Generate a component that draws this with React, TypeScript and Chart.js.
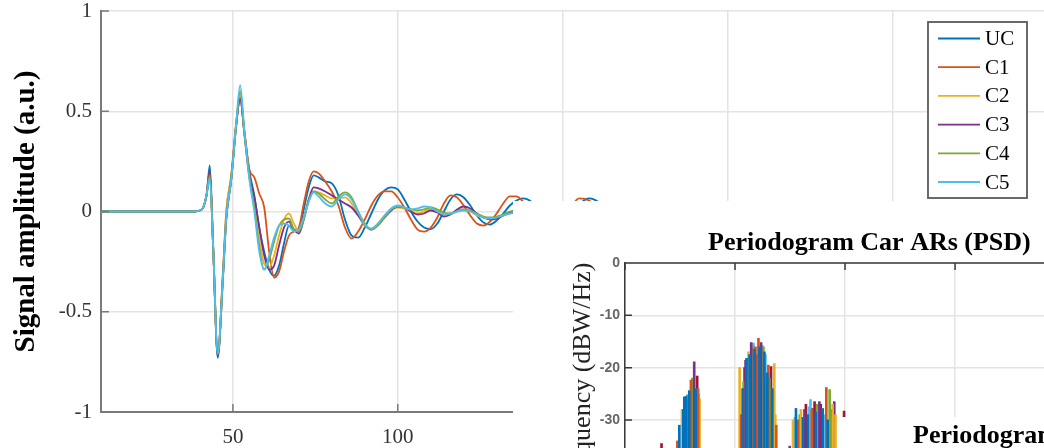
import React, { useEffect, useRef } from 'react';
import { Chart, registerables } from 'chart.js';

Chart.register(...registerables);

if (typeof document !== 'undefined') document.body.style.margin = '0';

const SERIF = 'Liberation Serif';
const SANS = 'Liberation Sans';

// ---------------- main chart data ----------------
const SERIES_NAMES = ['UC', 'C1', 'C2', 'C3', 'C4', 'C5'];
const SERIES_COLORS = ['#0072BD', '#D95319', '#EDB120', '#7E2F8E', '#77AC30', '#4DBEEE'];

const SAMPLE_X = [10, 38, 40, 41, 42, 43, 44, 45.4, 47, 48, 49.5, 51, 52.2, 53.5, 55, 56.5, 58, 59.5, 61, 62.5, 64, 65.5, 67, 68.5, 70, 71.5, 73, 74.5, 76, 78, 80, 82, 84, 86, 88, 90, 92, 94, 96, 98, 100, 102, 104, 106, 108, 110, 112, 114, 116, 118, 120, 122, 124, 126, 128, 130, 132, 134, 136, 138, 140, 143, 146, 149, 152, 155, 158, 161, 164, 168, 175];

const UC = [0, 0, 0.005, 0.02, 0.08, 0.23, -0.17, -0.73, -0.33, -0.04,
  0.16, 0.43, 0.57, 0.39, 0.2, 0.08, -0.08, -0.2, -0.29, -0.32,
  -0.27, -0.16, -0.07, -0.09, -0.1, 0.01, 0.12, 0.18, 0.17, 0.15,
  0.14, 0.08, -0.04, -0.12, -0.13, -0.08, -0.01, 0.06, 0.105, 0.12,
  0.11, 0.06, 0.0, -0.05, -0.08, -0.088, -0.06, 0.0, 0.06, 0.085,
  0.07, 0.03, -0.02, -0.055, -0.065, -0.045, -0.01, 0.03, 0.055, 0.065,
  0.055, 0.01, -0.04, -0.05, -0.02, 0.035, 0.065, 0.045, -0.01, -0.04, 0.0];
const C1 = [0, 0, 0.005, 0.02, 0.08, 0.2, -0.17, -0.71, -0.3, 0.0,
  0.18, 0.44, 0.56, 0.4, 0.21, 0.17, 0.09, 0.02, -0.2, -0.33,
  -0.3, -0.2, -0.12, -0.1, -0.08, 0.04, 0.15, 0.2, 0.19, 0.15,
  0.1, 0.03, -0.08, -0.135, -0.1, -0.04, 0.03, 0.08, 0.1, 0.1,
  0.07, 0.02, -0.04, -0.09, -0.1, -0.08, -0.03, 0.04, 0.08, 0.07,
  0.03, -0.02, -0.06, -0.07, -0.05, -0.01, 0.04, 0.075, 0.075, 0.05,
  0.02, -0.03, -0.06, -0.04, 0.01, 0.065, 0.055, 0.01, -0.03, -0.04, 0.0];
const C2 = [0, 0, 0.005, 0.02, 0.08, 0.19, -0.17, -0.71, -0.3, 0.0,
  0.18, 0.44, 0.59, 0.4, 0.18, 0.04, -0.14, -0.26, -0.28, -0.22,
  -0.12, -0.04, -0.01, -0.06, -0.1, -0.03, 0.06, 0.1, 0.095, 0.08,
  0.065, 0.065, 0.07, 0.04, -0.02, -0.07, -0.085, -0.06, -0.02, 0.01,
  0.02, 0.015, 0.0, -0.01, 0.0, 0.01, 0.0, -0.015, -0.01, 0.005,
  0.01, 0.0, -0.02, -0.03, -0.035, -0.03, -0.02, -0.01, 0.0, 0.0,
  0, 0, 0, 0, 0, 0, 0, 0, 0, 0, 0];
const C3 = [0, 0, 0.005, 0.02, 0.08, 0.2, -0.17, -0.72, -0.32, -0.03,
  0.16, 0.43, 0.56, 0.39, 0.18, 0.07, -0.08, -0.22, -0.29, -0.27,
  -0.17, -0.08, -0.05, -0.09, -0.11, -0.04, 0.06, 0.12, 0.115, 0.1,
  0.08, 0.06, 0.04, 0.02, -0.02, -0.065, -0.09, -0.065, -0.03, 0.005,
  0.025, 0.02, 0.0, -0.015, -0.01, 0.005, -0.005, -0.025, -0.015, 0.01,
  0.025, 0.015, -0.01, -0.03, -0.04, -0.035, -0.02, -0.005, 0.0, 0.0,
  0, 0, 0, 0, 0, 0, 0, 0, 0, 0, 0];
const C4 = [0, 0, 0.005, 0.02, 0.08, 0.18, -0.17, -0.71, -0.32, -0.03,
  0.16, 0.43, 0.6, 0.38, 0.17, 0.02, -0.18, -0.29, -0.24, -0.15,
  -0.07, -0.04, -0.035, -0.09, -0.1, -0.04, 0.05, 0.1, 0.09, 0.06,
  0.04, 0.075, 0.095, 0.07, 0.0, -0.06, -0.09, -0.07, -0.03, 0.01,
  0.025, 0.02, 0.01, 0.005, 0.01, 0.02, 0.01, -0.005, -0.01, 0.0,
  0.01, 0.005, -0.01, -0.025, -0.03, -0.025, -0.015, 0.0, 0.005, 0.0,
  0, 0, 0, 0, 0, 0, 0, 0, 0, 0, 0];
const C5 = [0, 0, 0.005, 0.02, 0.08, 0.165, -0.17, -0.71, -0.32, -0.03,
  0.16, 0.44, 0.63, 0.4, 0.16, 0.0, -0.2, -0.29, -0.22, -0.13,
  -0.07, -0.06, -0.07, -0.1, -0.09, -0.03, 0.05, 0.095, 0.075, 0.04,
  0.025, 0.06, 0.085, 0.06, -0.005, -0.065, -0.085, -0.06, -0.02, 0.015,
  0.03, 0.02, 0.01, 0.015, 0.025, 0.02, 0.0, -0.015, -0.01, 0.0,
  0.005, 0.0, -0.015, -0.03, -0.035, -0.03, -0.02, -0.01, -0.005, 0.0,
  0, 0, 0, 0, 0, 0, 0, 0, 0, 0, 0];
const SERIES_VALUES = [UC, C1, C2, C3, C4, C5];

const MAIN_X_MIN = 10;
const MAIN_X_MAX = 296;
const MAIN_X_STEP = 50;
const MAIN_Y_MIN = -1;
const MAIN_Y_MAX = 1;
const MAIN_Y_STEP = 0.5;
const MAIN_Y_LABEL = 'Signal amplitude (a.u.)';

// ---------------- periodogram inset data ----------------
const PSD_TITLE = 'Periodogram Car ARs (PSD)';
const PSD_Y_LABEL = 'Power/frequency (dBW/Hz)';
const PSD_X_MIN = 0;
const PSD_X_MAX = 5;
const PSD_Y_MIN = -56;
const PSD_Y_MAX = 0;
const PSD_Y_STEP = 10;
const PSD_FLOOR = -70;
const PSD_COLORS = ['#0072BD', '#D95319', '#EDB120', '#7E2F8E', '#77AC30', '#4DBEEE', '#A2142F'];

const PSD_F_1 = [0.494, 0.530, 0.539, 0.553, 0.584, 0.642, 1.069, 1.105, 1.132, 1.177, 1.222, 1.267, 1.294, 1.339, 1.554, 1.617, 1.662, 1.734, 1.797, 1.842];
const PSD_DB_1 = [-31, -28, -25.6, -25.5, -24.4, -24, -24, -18.2, -17.5, -16.5, -16, -17, -21, -24, -27.8, -29.5, -29, -28.5, -27.8, -30];
const PSD_F_2 = [0.476, 0.568, 0.599, 0.665, 1.056, 1.186, 1.213, 1.303, 1.375, 1.572, 1.698, 1.830];
const PSD_DB_2 = [-34, -26, -22.4, -24, -29, -16, -14.4, -19.5, -31, -30, -28, -23.8];
const PSD_F_3 = [0.518, 0.670, 0.678, 1.042, 1.123, 1.357, 1.366, 1.527, 1.599, 1.887, 1.913];
const PSD_DB_3 = [-28, -25, -26, -20, -17, -19.2, -29, -30, -28, -27, -29];
const PSD_F_4 = [0.629, 1.096, 1.147, 1.237, 1.497, 1.631, 1.707, 1.767, 1.902];
const PSD_DB_4 = [-18.9, -18.6, -15.2, -15.2, -35, -28, -27.8, -26.5, -26.5];
const PSD_F_5 = [0.566, 0.611, 1.078, 1.159, 1.258, 1.312, 1.588, 1.748, 1.860];
const PSD_DB_5 = [-25.2, -22, -22.7, -16, -16, -22, -29, -27, -24.2];
const PSD_F_6 = [0.620, 1.114, 1.168, 1.249, 1.276, 1.545, 1.671, 1.686, 1.811];
const PSD_DB_6 = [-23, -18.5, -15.3, -15.8, -17.5, -29.5, -27.5, -26.1, -29];
const PSD_F_7 = [0.332, 0.656, 1.087, 1.195, 1.285, 1.327, 1.644, 1.723, 1.779, 1.873, 1.991];
const PSD_DB_7 = [-34.5, -21.6, -20, -17.5, -23, -19.8, -27, -26.5, -27, -28, -28.3];
const PSD_FREQS = [PSD_F_1, PSD_F_2, PSD_F_3, PSD_F_4, PSD_F_5, PSD_F_6, PSD_F_7];
const PSD_LEVELS = [PSD_DB_1, PSD_DB_2, PSD_DB_3, PSD_DB_4, PSD_DB_5, PSD_DB_6, PSD_DB_7];

const THIRD_TITLE = 'Periodogram Car ARs (PSD)';

// ---------------- plugins ----------------
const innerTicks = {
  id: 'innerTicks',
  afterDatasetsDraw(chart: any, _args: any, o: any) {
    if (!o || !o.show) return;
    const { ctx, chartArea, scales } = chart;
    const xs = scales.x;
    const ys = scales.y;
    ctx.save();
    ctx.strokeStyle = o.color;
    ctx.lineWidth = o.width;
    ctx.beginPath();
    xs.ticks.forEach((t: any) => {
      const px = xs.getPixelForValue(t.value);
      if (o.bottom) { ctx.moveTo(px, chartArea.bottom); ctx.lineTo(px, chartArea.bottom - o.len); }
      if (o.top) { ctx.moveTo(px, chartArea.top); ctx.lineTo(px, chartArea.top + o.len); }
    });
    ys.ticks.forEach((t: any) => {
      const py = ys.getPixelForValue(t.value);
      if (o.left) { ctx.moveTo(chartArea.left, py); ctx.lineTo(chartArea.left + o.len, py); }
    });
    if (o.topBorder) { ctx.moveTo(chartArea.left, chartArea.top); ctx.lineTo(chartArea.right, chartArea.top); }
    ctx.stroke();
    ctx.restore();
  },
};

const boxLegend = {
  id: 'boxLegend',
  afterDatasetsDraw(chart: any, _args: any, o: any) {
    if (!o || !o.show) return;
    const ctx = chart.ctx;
    ctx.save();
    ctx.fillStyle = '#ffffff';
    ctx.fillRect(o.x, o.y, o.w, o.h);
    ctx.strokeStyle = o.borderColor;
    ctx.lineWidth = o.borderWidth;
    ctx.strokeRect(o.x, o.y, o.w, o.h);
    ctx.font = `${o.fontSize}px "${SERIF}"`;
    ctx.textBaseline = 'middle';
    ctx.textAlign = 'left';
    chart.data.datasets.forEach((ds: any, i: number) => {
      const cy = o.firstRow + i * o.rowGap;
      ctx.strokeStyle = ds.borderColor;
      ctx.lineWidth = o.lineWidth;
      ctx.beginPath();
      ctx.moveTo(o.lineStart, cy);
      ctx.lineTo(o.lineEnd, cy);
      ctx.stroke();
      ctx.fillStyle = '#000';
      ctx.fillText(ds.label, o.textX, cy + 1);
    });
    ctx.restore();
  },
};

const cornerTitle = {
  id: 'cornerTitle',
  afterDraw(chart: any, _args: any, o: any) {
    if (!o || !o.show) return;
    const { ctx, chartArea } = chart;
    ctx.save();
    ctx.font = `bold ${o.size}px "${SERIF}"`;
    ctx.fillStyle = o.color;
    ctx.textAlign = 'left';
    ctx.textBaseline = 'alphabetic';
    ctx.fillText(o.text, chartArea.left + o.dx, chartArea.top - o.dy);
    ctx.restore();
  },
};

const plainNumber = (v: any) => String(Number(v));

// ---------------- chart builders ----------------
function buildMain(canvas: HTMLCanvasElement) {
  const datasets = SERIES_NAMES.map((name, i) => ({
    label: name,
    data: SAMPLE_X.map((x, j) => ({ x, y: SERIES_VALUES[i][j] })),
    borderColor: SERIES_COLORS[i],
    backgroundColor: SERIES_COLORS[i],
    borderWidth: 1.8,
    pointRadius: 0,
    cubicInterpolationMode: 'monotone' as const,
    order: SERIES_NAMES.length - i,
  }));
  return new Chart(canvas, {
    type: 'line',
    data: { datasets },
    plugins: [innerTicks, boxLegend],
    options: {
      responsive: false,
      animation: false,
      layout: { padding: { top: 11, right: 0, bottom: 0, left: 0 } },
      plugins: {
        legend: { display: false },
        tooltip: { enabled: false },
        innerTicks: { show: true, bottom: true, left: true, top: false, topBorder: false, color: '#7a7a7a', width: 1.5, len: 8 },
        boxLegend: {
          show: true, x: 928, y: 22, w: 99, h: 176, borderColor: '#5a5a5a', borderWidth: 1.8,
          firstRow: 38.5, rowGap: 28.7, lineStart: 938, lineEnd: 980, textX: 985, fontSize: 21, lineWidth: 1.8,
        },
      } as any,
      scales: {
        x: {
          type: 'linear',
          min: MAIN_X_MIN,
          max: MAIN_X_MAX,
          afterBuildTicks: (s: any) => { s.ticks = s.ticks.filter((t: any) => t.value % MAIN_X_STEP === 0); },
          afterFit: (s: any) => { s.height = 36; s.paddingLeft = 0; s.paddingRight = 0; },
          ticks: { stepSize: MAIN_X_STEP, color: '#333', font: { family: SERIF, size: 21, lineHeight: 1 }, padding: 15, maxRotation: 0, autoSkip: false, callback: plainNumber },
          grid: { color: '#e4e4e4', lineWidth: 1.5, drawTicks: false },
          border: { color: '#7a7a7a', width: 2 },
        },
        y: {
          type: 'linear',
          min: MAIN_Y_MIN,
          max: MAIN_Y_MAX,
          afterFit: (s: any) => { s.width = 101; s.paddingTop = 0; s.paddingBottom = 0; },
          ticks: { stepSize: MAIN_Y_STEP, color: '#333', font: { family: SERIF, size: 21, lineHeight: 1 }, padding: 9, callback: plainNumber },
          grid: { color: '#e4e4e4', lineWidth: 1.5, drawTicks: false },
          border: { color: '#7a7a7a', width: 2 },
          title: { display: true, text: MAIN_Y_LABEL, color: '#000', font: { family: SERIF, size: 29, weight: 'bold', lineHeight: 1.2 }, padding: { top: 9, bottom: 0 } },
        },
      },
    },
  });
}

function buildInset(canvas: HTMLCanvasElement) {
  const datasets = PSD_FREQS.map((freqs, i) => ({
    label: 'PSD ' + (i + 1),
    data: freqs.map((f, j) => ({ x: f, y: [PSD_FLOOR, PSD_LEVELS[i][j]] })),
    backgroundColor: PSD_COLORS[i],
    borderWidth: 0,
    barThickness: 2,
    grouped: false,
  }));
  return new Chart(canvas, {
    type: 'bar',
    data: { datasets } as any,
    plugins: [innerTicks, cornerTitle],
    options: {
      responsive: false,
      animation: false,
      layout: { padding: { top: 62, right: 0, bottom: 0, left: 0 } },
      plugins: {
        legend: { display: false },
        tooltip: { enabled: false },
        innerTicks: { show: true, bottom: false, left: true, top: true, topBorder: true, color: '#3a3a3a', width: 1.5, len: 7 },
        cornerTitle: { show: true, text: PSD_TITLE, size: 26, color: '#000', dx: 83, dy: 13 },
      } as any,
      scales: {
        x: {
          type: 'linear',
          min: PSD_X_MIN,
          max: PSD_X_MAX,
          offset: false,
          afterFit: (s: any) => { s.height = 30; },
          ticks: { stepSize: 1, color: '#555', font: { family: SANS, size: 14, weight: 'bold' } },
          grid: { color: '#e4e4e4', lineWidth: 1.5, drawTicks: false, offset: false },
          border: { color: '#3a3a3a', width: 1.5 },
        },
        y: {
          type: 'linear',
          min: PSD_Y_MIN,
          max: PSD_Y_MAX,
          afterBuildTicks: (s: any) => { s.ticks = s.ticks.filter((t: any) => t.value % PSD_Y_STEP === 0); },
          afterFit: (s: any) => { s.width = 112; s.paddingTop = 0; },
          ticks: { stepSize: PSD_Y_STEP, color: '#666', font: { family: SANS, size: 14, weight: 'bold' }, padding: 5 },
          grid: { color: '#e4e4e4', lineWidth: 1.5, drawTicks: false },
          border: { color: '#3a3a3a', width: 1.5 },
          title: { display: true, text: PSD_Y_LABEL, color: '#222', font: { family: SERIF, size: 26, lineHeight: 1.2 }, padding: { top: 55, bottom: 0 } },
        },
      },
    } as any,
  });
}

function buildThird(canvas: HTMLCanvasElement) {
  return new Chart(canvas, {
    type: 'bar',
    data: { datasets: [] },
    options: {
      responsive: false,
      animation: false,
      layout: { padding: { top: 0, left: 75, right: 0, bottom: 0 } },
      plugins: {
        legend: { display: false },
        tooltip: { enabled: false },
        title: { display: true, text: THIRD_TITLE, align: 'start', color: '#000', font: { family: SERIF, size: 26, weight: 'bold', lineHeight: 1.2 }, padding: { top: 4, bottom: 0 } },
      },
      scales: { x: { display: false }, y: { display: false } },
    } as any,
  });
}

export default function App() {
  const mainRef = useRef<HTMLCanvasElement>(null);
  const insetRef = useRef<HTMLCanvasElement>(null);
  const thirdRef = useRef<HTMLCanvasElement>(null);

  useEffect(() => {
    const charts: Chart[] = [];
    if (mainRef.current) charts.push(buildMain(mainRef.current));
    if (insetRef.current) charts.push(buildInset(insetRef.current));
    if (thirdRef.current) charts.push(buildThird(thirdRef.current));
    return () => charts.forEach((c) => c.destroy());
  }, []);

  return (
    <div style={{ position: 'relative', width: 1044, height: 448, overflow: 'hidden', background: '#fff' }}>
      <canvas ref={mainRef} width={1044} height={448} style={{ position: 'absolute', left: 0, top: 0, display: 'block' }} />
      <div style={{ position: 'absolute', left: 513, top: 201, width: 531, height: 247, overflow: 'hidden', background: '#fff' }}>
        <canvas ref={insetRef} width={669} height={385} style={{ display: 'block' }} />
      </div>
      <div style={{ position: 'absolute', left: 838, top: 417, width: 206, height: 31, overflow: 'hidden', background: '#fff' }}>
        <canvas ref={thirdRef} width={420} height={44} style={{ display: 'block' }} />
      </div>
    </div>
  );
}
